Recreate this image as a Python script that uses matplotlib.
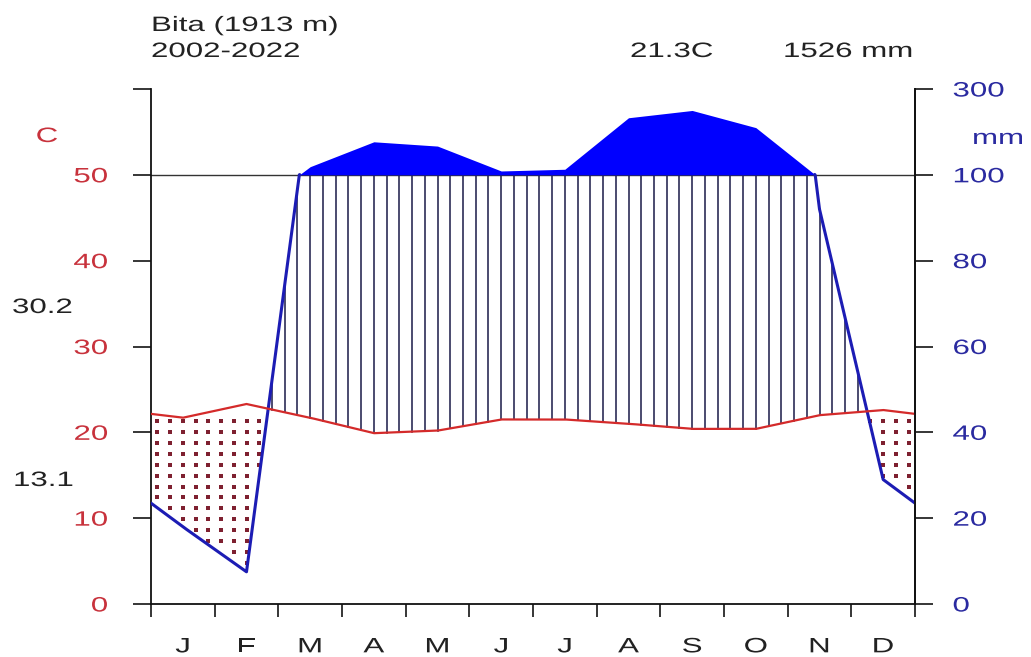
## Walter-Lieth climate diagram for Bita, 2002-2022
import numpy as np
import matplotlib
matplotlib.use('Agg')
import matplotlib.pyplot as plt
from matplotlib.patheffects import AbstractPathEffect
from matplotlib.transforms import Affine2D

plt.rcParams['font.family'] = ['Liberation Sans', 'DejaVu Sans']

station = 'Bita (1913 m)'
period = '2002-2022'
months = ['J', 'F', 'M', 'A', 'M', 'J', 'J', 'A', 'S', 'O', 'N', 'D']
temp = [21.7, 23.3, 21.7, 19.9, 20.2, 21.5, 21.5, 21.0, 20.4, 20.4, 22.0, 22.6]   # C
prec = [18, 7.5, 119, 177, 167, 109, 113, 233, 250, 210, 92, 29]                  # mm
mean_temp = 21.3
total_prec = 1526
max_warm = 30.2
min_cold = 13.1

red = '#d42a2a'
red_txt = '#c8323c'
blue_txt = '#2a2aa0'
dark = '#222222'
FS = 15
W, H = 1031., 657.


class Widen(AbstractPathEffect):
	"""Draw text glyphs stretched horizontally about one end/centre."""
	def __init__(self, sx=1.5, anchor='left'):
		super().__init__()
		self.sx = sx
		self.anchor = anchor

	def draw_path(self, renderer, gc, tpath, affine, rgbFace=None):
		ext = tpath.get_extents()
		x0 = {'left': 0.0, 'center': (ext.x0 + ext.x1) / 2.0, 'right': ext.x1}[self.anchor]
		stretch = Affine2D().translate(-x0, 0).scale(self.sx, 1).translate(x0, 0)
		renderer.draw_path(gc, tpath, stretch + affine, rgbFace)


def label(x, y, s, color=dark, ha='left'):
	# x, y in pixels from the top-left corner, y is the baseline
	fig.text(x / W, 1 - y / H, s, color=color, fontsize=FS, ha=ha, va='baseline',
		path_effects=[Widen(1.5, ha)])


## extend the monthly series to the year edges and interpolate finely
x_mid = np.arange(12) + 0.5
t_edge = (temp[-1] + temp[0]) / 2.0
p_edge = (prec[-1] + prec[0]) / 2.0
x_ext = np.concatenate([[0], x_mid, [12]])
t_ext = np.concatenate([[t_edge], temp, [t_edge]])
p_ext = np.concatenate([[p_edge], prec, [p_edge]])

xf = np.linspace(0, 12, 2401)
tf = np.interp(xf, x_ext, t_ext)
pf = np.interp(xf, x_ext, p_ext)

def scale_prec(p):
	# 1 C = 2 mm up to 100 mm, 1 C = 20 mm above
	p = np.asarray(p, dtype=float)
	return np.where(p <= 100, p / 2.0, 50 + (p - 100) / 20.0)

pplot = scale_prec(pf)

fig = plt.figure(figsize=(10.31, 6.57), dpi=100)
ax = fig.add_axes([151/W, 53/H, 764/W, 515/H])
ax.set_xlim(0, 12)
ax.set_ylim(0, 60)

## 100 mm reference line
ax.axhline(50, color='#333333', lw=1.0, zorder=1)

## humid period: vertical hatching, dry period: dotted columns
cols = np.arange(0.1, 12, 0.2)
tc = np.interp(cols, xf, tf)
pc = np.interp(cols, xf, pplot)
dot_rows = 21.3 - 1.27 * np.arange(18)
dx, dy = [], []
for xc, t, p in zip(cols, tc, pc):
	if p > t:
		ax.plot([xc, xc], [t, min(p, 50)], color='#23234f', lw=1.15, zorder=2)
	else:
		for yr in dot_rows:
			if p + 0.3 < yr < t - 0.3:
				dx.append(xc)
				dy.append(yr)
ax.plot(dx, dy, 's', color='#7e2030', ms=2.6, mew=0, zorder=2)

## precipitation above 100 mm
ax.fill_between(xf, 50, pplot, where=pplot > 50, interpolate=True,
	color='#0000ff', lw=0, zorder=3)

## precipitation curve (below 100 mm)
p_line = np.where(pplot > 50.05, np.nan, pplot)
ax.plot(xf, p_line, color='#1c1cb4', lw=2.2, zorder=4, solid_capstyle='round')

## temperature curve
ax.plot(xf, tf, color=red, lw=1.6, zorder=5)

## axes
ax.spines['top'].set_visible(False)
for side in ['left', 'right', 'bottom']:
	ax.spines[side].set_linewidth(1.3)
	ax.spines[side].set_color('#111111')

ax.set_xticks(range(13))
ax.set_xticklabels([])
ax.set_xticks(x_mid, minor=True)
ax.set_xticklabels(months, minor=True, fontsize=FS, color=dark)
ax.tick_params(axis='x', which='major', direction='out', length=9.5, width=1.1)
ax.tick_params(axis='x', which='minor', length=0, pad=24)
for lbl in ax.get_xticklabels(minor=True):
	lbl.set_path_effects([Widen(1.5, 'center')])

ax.set_yticks(range(0, 61, 10))
ax.set_yticklabels(['0', '10', '20', '30', '40', '50', ''], fontsize=FS, color=red_txt)
ax.tick_params(axis='y', direction='out', length=13, width=1.1, pad=18)
for lbl in ax.get_yticklabels():
	lbl.set_path_effects([Widen(1.5, 'right')])

ax2 = ax.twinx()
ax2.set_ylim(0, 60)
for side in ['top', 'left', 'bottom']:
	ax2.spines[side].set_visible(False)
ax2.spines['right'].set_linewidth(1.3)
ax2.spines['right'].set_color('#111111')
ax2.set_yticks(range(0, 61, 10))
ax2.set_yticklabels(['0', '20', '40', '60', '80', '100', '300'], fontsize=FS, color=blue_txt)
ax2.tick_params(axis='y', direction='out', length=13, width=1.1, pad=14)
for lbl in ax2.get_yticklabels():
	lbl.set_path_effects([Widen(1.5, 'left')])

## labels around the diagram
label(47, 142, 'C', color=red_txt, ha='center')
label(972, 144, 'mm', color=blue_txt)
label(12, 313, '%.1f' % max_warm)
label(13, 486, '%.1f' % min_cold)

label(151, 31, station)
label(151, 57, period)
label(630, 57, '%.1fC' % mean_temp)
label(783, 57, '%d mm' % total_prec)

fig.savefig('out.png', dpi=100)
